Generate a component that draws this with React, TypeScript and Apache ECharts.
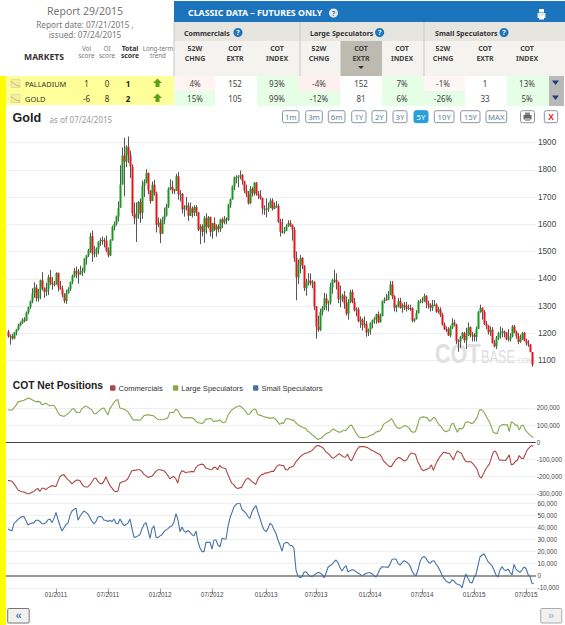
import React, { useEffect, useRef } from "react";
import * as echarts from "echarts";

// Weekly gold candles (Jul 2010 - Jul 2015)
const opens = [
  1206,1188,1189,1181,1204,1214,1227,1238,1250,1246,1276,1296,1317,1346,1368,1328,1359,1394,1367,1352,1363,1406,1385,1379,1380,
  1421,1369,1361,1342,1318,1348,1362,1388,1410,1429,1421,1416,1428,1428,1474,1486,1504,1556,1492,1493,1510,1536,1542,1541,1539,1503,1486,1541,1590,1601,1628,1660,1746,1852,1830,1884,1855,1812,1640,1622,1635,1682,1642,1742,1755,1788,1724,1685,1745,1713,1598,1606,
  1565,1617,1632,1664,1730,1737,1725,1723,1776,1711,1711,1655,1662,1669,1631,1658,1642,1663,1644,1580,1592,1572,1622,1590,1626,1572,1604,1580,1592,1582,1618,1606,1620,1616,1671,1692,1740,1772,1772,1776,1780,1758,1724,1710,1677,1730,1714,1752,1711,1705,1696,1658,
  1656,1656,1660,1687,1657,1666,1667,1609,1572,1572,1576,1592,1605,1597,1580,1476,1405,1453,1476,1447,1365,1387,1393,1383,1387,1298,1224,1212,1278,1293,1328,1310,1313,1369,1396,1396,1386,1326,1326,1339,1310,1272,1315,1352,1315,1284,1288,1244,1250,1230,1235,1203,
  1213,1238,1248,1254,1270,1240,1263,1318,1324,1322,1340,1379,1336,1294,1303,1318,1293,1303,1302,1290,1293,1292,1246,1252,1274,1316,1316,1320,1337,1310,1304,1293,1304,1305,1279,1287,1267,1231,1215,1214,1192,1221,1239,1231,1171,1169,1185,1201,1175,1191,1222,1195,
  1195,1186,1216,1279,1293,1278,1234,1227,1204,1213,1164,1152,1182,1199,1200,1207,1203,1178,1178,1188,1225,1204,1189,1168,1179,1201,1173,1163,1159,1131,
];
const closes = [
  1188,1189,1181,1204,1214,1227,1238,1250,1246,1276,1296,1317,1346,1368,1328,1359,1394,1367,1352,1363,1406,1385,1379,1380,1421,
  1369,1361,1342,1318,1348,1362,1388,1410,1429,1421,1416,1428,1428,1474,1486,1504,1556,1492,1493,1510,1536,1542,1541,1539,1503,1486,1541,1590,1601,1628,1660,1746,1852,1830,1884,1855,1812,1640,1622,1635,1682,1642,1742,1755,1788,1724,1685,1745,1713,1598,1606,1565,
  1617,1632,1664,1730,1737,1725,1723,1776,1711,1711,1655,1662,1669,1631,1658,1642,1663,1644,1580,1592,1572,1622,1590,1626,1572,1604,1580,1592,1582,1618,1606,1620,1616,1671,1692,1740,1772,1772,1776,1780,1758,1724,1710,1677,1730,1714,1752,1711,1705,1696,1658,1656,
  1656,1660,1687,1657,1666,1667,1609,1572,1572,1576,1592,1605,1597,1580,1476,1405,1453,1476,1447,1365,1387,1393,1383,1387,1298,1224,1212,1278,1293,1328,1310,1313,1369,1396,1396,1386,1326,1326,1339,1310,1272,1315,1352,1315,1284,1288,1244,1250,1230,1235,1203,1213,
  1238,1248,1254,1270,1240,1263,1318,1324,1322,1340,1379,1336,1294,1303,1318,1293,1303,1302,1290,1293,1292,1246,1252,1274,1316,1316,1320,1337,1310,1304,1293,1304,1305,1279,1287,1267,1231,1215,1214,1192,1221,1239,1231,1171,1169,1185,1201,1175,1191,1222,1195,1195,
  1186,1216,1279,1293,1278,1234,1227,1204,1213,1164,1152,1182,1199,1200,1207,1203,1178,1178,1188,1225,1204,1189,1168,1179,1201,1173,1163,1159,1131,1085,
];
const highs = [
  1212,1196,1198,1205,1216,1235,1243,1256,1259,1280,1298,1320,1365,1387,1379,1362,1397,1424,1369,1385,1415,1432,1406,1392,1424,
  1423,1392,1375,1347,1360,1369,1390,1415,1440,1445,1436,1448,1441,1476,1487,1510,1569,1577,1521,1515,1537,1550,1555,1550,1558,1515,1545,1595,1610,1632,1684,1817,1882,1917,1890,1922,1870,1820,1680,1680,1685,1695,1760,1765,1802,1790,1725,1757,1763,1720,1625,1620,
  1627,1661,1675,1735,1765,1760,1730,1785,1792,1725,1715,1670,1700,1680,1680,1665,1670,1670,1645,1600,1600,1630,1640,1630,1628,1605,1625,1600,1600,1620,1625,1630,1625,1675,1695,1742,1775,1780,1780,1797,1785,1760,1745,1722,1740,1737,1755,1755,1722,1725,1698,1670,
  1695,1680,1695,1695,1680,1685,1675,1620,1620,1590,1600,1615,1615,1600,1590,1500,1470,1487,1480,1450,1400,1420,1420,1395,1392,1300,1265,1290,1300,1348,1345,1320,1385,1400,1433,1420,1390,1375,1345,1355,1335,1325,1360,1361,1330,1295,1295,1262,1255,1262,1245,1217,
  1240,1250,1260,1272,1280,1272,1320,1332,1345,1355,1392,1392,1340,1305,1330,1330,1310,1315,1315,1305,1305,1295,1255,1285,1322,1325,1332,1345,1340,1320,1310,1322,1322,1310,1297,1295,1275,1240,1225,1222,1228,1255,1250,1235,1178,1190,1205,1205,1220,1240,1225,1205,
  1200,1225,1282,1305,1295,1285,1245,1230,1225,1222,1175,1190,1205,1225,1220,1210,1205,1215,1200,1230,1230,1210,1200,1195,1205,1205,1180,1175,1160,1130,
];
const lows = [
  1184,1158,1176,1178,1192,1210,1225,1234,1240,1244,1270,1290,1310,1330,1316,1316,1325,1357,1330,1336,1340,1376,1360,1372,1378,
  1353,1360,1332,1310,1308,1345,1355,1380,1405,1402,1382,1415,1410,1421,1452,1480,1495,1462,1478,1480,1490,1520,1525,1515,1497,1478,1483,1540,1577,1595,1610,1664,1745,1702,1810,1825,1770,1630,1600,1535,1620,1605,1620,1700,1750,1710,1675,1685,1705,1570,1590,1531,
  1565,1600,1628,1660,1725,1712,1710,1722,1690,1684,1640,1628,1650,1612,1630,1625,1630,1630,1575,1527,1555,1532,1565,1585,1555,1547,1575,1555,1570,1572,1586,1600,1600,1612,1660,1690,1725,1750,1735,1765,1745,1715,1700,1672,1675,1702,1705,1705,1692,1690,1636,1635,
  1625,1645,1660,1650,1655,1660,1605,1555,1565,1565,1575,1590,1590,1540,1462,1321,1380,1420,1435,1355,1338,1375,1375,1365,1285,1180,1205,1208,1265,1285,1284,1280,1305,1345,1385,1360,1310,1295,1315,1290,1265,1250,1310,1310,1280,1262,1240,1220,1210,1220,1187,1190,
  1195,1218,1235,1235,1238,1240,1262,1310,1320,1322,1340,1325,1280,1277,1295,1290,1275,1285,1280,1285,1282,1240,1240,1250,1272,1310,1310,1315,1292,1290,1280,1282,1300,1275,1272,1260,1228,1212,1205,1190,1185,1215,1225,1160,1132,1145,1180,1165,1142,1190,1185,1170,
  1170,1170,1215,1275,1250,1230,1215,1195,1190,1162,1148,1142,1175,1180,1185,1185,1175,1170,1170,1185,1200,1180,1160,1165,1175,1170,1155,1150,1130,1077,
];

// COT net positions, in thousands of contracts (one value per week)
const commercials = [
  -223,-223,-227,-242,-258,-277,-283,-287,-290,-294,-300,-296,-290,-285,-275,-269,-285,-267,-267,-275,-265,-258,-252,-254,-258,-227,-200,-192,-188,-204,-217,-227,-242,-231,-221,-219,-223,-242,-256,-260,
  -260,-246,-231,-212,-208,-227,-238,-242,-227,-200,-227,-250,-265,-281,-287,-285,-238,-231,-227,-223,-212,-188,-165,-163,-162,-160,-160,-169,-185,-194,-204,-200,-198,-185,-169,-160,-160,-162,-165,-177,
  -192,-212,-204,-198,-212,-237,-188,-165,-169,-177,-173,-173,-169,-173,-150,-135,-131,-127,-131,-150,-154,-158,-160,-146,-146,-160,-135,-146,-150,-154,-185,-212,-237,-246,-262,-269,-265,-262,-238,-219,
  -208,-215,-227,-235,-246,-217,-198,-188,-185,-177,-179,-173,-169,-169,-150,-135,-131,-135,-135,-160,-160,-146,-144,-138,-115,-102,-88,-77,-69,-62,-62,-54,-50,-38,-25,-19,-21,-27,-35,-54,
  -62,-73,-88,-92,-83,-73,-67,-77,-85,-87,-69,-96,-108,-83,-58,-38,-25,-25,-25,-27,-31,-38,-46,-50,-58,-65,-69,-83,-108,-119,-131,-142,-140,-121,-104,-92,-88,-96,-106,-108,
  -96,-73,-62,-65,-69,-108,-131,-154,-165,-160,-156,-150,-131,-163,-131,-108,-88,-73,-58,-60,-63,-65,-83,-102,-73,-50,-58,-63,-88,-108,-115,-112,-115,-127,-142,-160,-198,-208,-185,-160,
  -142,-127,-92,-58,-50,-73,-102,-104,-104,-106,-92,-73,-131,-127,-112,-104,-77,-92,-96,-69,-44,-31,-19,-23,
];
const largeSpeculators = [
  188,188,187,200,215,235,238,242,244,250,258,254,248,242,235,238,235,219,223,227,219,212,215,215,196,173,158,154,150,158,167,177,192,196,177,173,173,196,204,212,
  204,196,188,167,165,177,187,196,200,181,158,196,212,231,244,248,200,196,192,187,177,162,142,129,131,129,129,138,154,158,160,158,156,154,142,133,131,131,133,137,
  142,173,173,173,192,187,162,148,142,144,142,144,142,138,123,115,112,110,115,135,135,138,135,119,125,123,131,119,113,119,154,173,188,196,204,208,212,204,192,181,
  162,165,181,192,192,162,158,154,150,144,146,138,142,142,135,119,104,113,110,135,138,135,129,129,115,104,96,90,85,81,65,58,46,38,27,17,21,25,37,48,
  54,58,71,77,69,62,58,62,71,67,81,96,100,81,58,42,29,27,27,29,31,38,42,46,58,62,65,77,104,113,119,127,138,119,96,85,81,85,94,96,
  90,81,62,58,62,96,138,146,148,146,142,123,129,144,138,115,100,90,71,62,65,71,106,110,85,58,81,77,85,115,119,115,110,113,129,148,187,190,181,162,
  138,119,90,58,52,52,90,100,104,100,104,62,119,113,100,100,71,96,100,71,58,46,35,29,
];
const smallSpeculators = [
  38.7,37.8,37.3,43.4,44.8,46.7,48,49,49,45.6,42,43,43.6,44,46,46,45,43,43,44,46.4,47,44,47.5,52.5,46.4,41.4,37,39.8,42.5,43.6,50,53.6,55,56,46,49,51.7,53.6,52.5,
  51,48,45,43,45,48.6,49,48.6,46,46,45,46,44.8,47,43.4,43,47,44,41.4,42.5,43.6,47,39,32,32,33,34,39,42.5,44,38,31,39,41.4,32,31.5,33,34,36.5,38,
  39,40.6,41.4,44.8,51.4,46,36.5,40.3,37,36,37.6,36,34,33,37,28,23,20,20,27.6,27.6,28,22,29.6,29.6,25.4,24,31,30.4,30.4,40.6,48,52.5,57,59,60,60,54.7,53.6,51.7,
  49,47.5,53,56,58,52.5,47.5,42,38,36.5,39,43.6,42,38,35,29.6,25.4,20.4,26.8,27.6,27.3,25,25,22.6,4.7,-0.3,-1.6,-0.8,2.8,3.3,1.1,-0.3,-0.8,0.5,1.6,2.8,2.2,1.1,-1.7,2,
  7,8.3,9.4,11.6,13,10.8,6.6,3.9,6.6,8.3,3.3,4.1,5,4.7,3.3,2.2,1.4,-0.3,1.1,1.9,2.5,2.5,1.7,0,-1.1,1.9,5.5,7.5,7.2,7.2,6.9,9.4,13.5,13.8,13.8,10.2,8.8,10.8,12.4,11.6,
  10.2,8.3,3.9,1.1,0,4.7,11.6,15,16,14.4,11.6,10.2,12,12.4,9.7,7.5,4.4,0.6,-2.2,-4.4,-5.5,-6,-3.3,-4.4,-6.4,-7.2,-7.7,-10,-3.6,1.4,-2.2,-5.5,-6,-1.7,1.1,8.3,15.7,17,18.2,15,
  11.6,10,8.3,4.7,0.6,-1.1,4.7,7.5,5,4.4,5.5,2.8,0.6,9.4,5.5,3.9,2.8,4.7,7.2,6,1.1,-0.8,-6.4,-6.6,
];

const xTickSlots = [25, 51, 77, 103, 130, 155, 182, 208, 234, 260];
const xTickLabels = ["01/2011","07/2011","01/2012","07/2012","01/2013","07/2013","01/2014","07/2014","01/2015","07/2015"];

const rangeButtons = ["1m","3m","6m","1Y","2Y","3Y","5Y","10Y","15Y","MAX"];
const groupHeads = ["Commercials","Large Speculators","Small Speculators"];
const columnHeads = [["52W","CHNG"],["COT","EXTR"],["COT","INDEX"],["52W","CHNG"],["COT","EXTR"],["COT","INDEX"],["52W","CHNG"],["COT","EXTR"],["COT","INDEX"]];
const marketRows = [
  { name: "PALLADIUM", vol: "1", oi: "0", total: "1", cells: ["4%","152","93%","-4%","152","7%","-1%","1","13%"] },
  { name: "GOLD", vol: "-6", oi: "8", total: "2", cells: ["15%","105","99%","-12%","81","6%","-26%","33","5%"] },
];
const cellTints = [
  ["#fff3f3","#ffffff","#e6fde6","#fff0f0","#ffffff","#e6fde6","#fff6f6","#ffffff","#e6fde6"],
  ["#e6fde6","#ffffff","#e6fde6","#e6fde6","#ffffff","#e6fde6","#e6fde6","#ffffff","#e6fde6"],
];

const SANS = '"Liberation Sans", Arial, sans-serif';
const TAB = '"Noto Sans", sans-serif';

function buildGraphics() {
  const g: any[] = [];
  const rect = (x: number, y: number, w: number, h: number, fill: string, extra: any = {}) =>
    g.push({ type: "rect", z: 1, shape: { x, y, width: w, height: h, ...(extra.r ? { r: extra.r } : {}) }, style: { fill, stroke: extra.stroke, lineWidth: extra.lw ?? 1 } });
  const text = (x: number, y: number, t: string, font: string, fill: string, align = "left", scaleX = 1, z = 3, lineHeight?: number) =>
    g.push({ type: "text", z, x, y, scaleX, style: { text: t, font, fill, textAlign: align, textVerticalAlign: "middle", ...(lineHeight ? { lineHeight } : {}) } });
  const help = (x: number, y: number, fill = "#1c75bc", col = "#fff") => {
    g.push({ type: "circle", z: 2, shape: { cx: x, cy: y, r: 4.5 }, style: { fill } });
    text(x, y + 0.3, "?", `bold 7px ${TAB}`, col, "center");
  };

  // left block
  text(85, 11, "Report 29/2015", `10.5px ${TAB}`, "#777777", "center");
  text(85, 24, "Report date: 07/21/2015 ,", `8.2px ${TAB}`, "#777777", "center");
  text(85, 34, "issued: 07/24/2015", `8.2px ${TAB}`, "#777777", "center");
  text(44, 57, "MARKETS", `bold 8.6px ${TAB}`, "#333333", "center");
  const mini = [
    [86.5, "Vol\nscore", "normal"], [107, "OI\nscore", "normal"], [130, "Total\nscore", "bold"], [158, "Long-term\ntrend", "normal"],
  ] as any[];
  mini.forEach(([x, t, w]) => {
    const col = w === "bold" ? "#333333" : "#777777";
    const size = x === 158 ? "6.2px" : w === "bold" ? "6.8px" : "6.4px";
    text(x, 52, t, `${w} ${size} ${TAB}`, col, "center", 1, 3, 7.2);
  });

  // blue header
  rect(174, 1, 391, 21, "#1c75bc");
  text(188, 13, "CLASSIC DATA \u2013 FUTURES ONLY", `bold 8.8px ${TAB}`, "#ffffff");
  help(333.5, 13, "#e8e8e8", "#1c75bc");
  rect(537.5, 13, 8, 5, "#e6e6e6");
  rect(539, 9, 5, 3.5, "#ffffff");
  rect(539, 16, 5, 3.5, "#ffffff");

  // group and column heads
  rect(174, 22, 391, 19, "#e7e5e0");
  rect(174, 41, 375, 35, "#f4f3f0");
  rect(565 - 16, 41, 16, 35, "#f4f3f0");
  rect(340.5, 41, 41.5, 35, "#bdbab2");
  [[174, 0], [300, 0], [424, 0]].forEach(([x]) => g.push({ type: "line", z: 2, shape: { x1: x, y1: 22, x2: x, y2: 76 }, style: { stroke: "#c9c7c1", lineWidth: 1 } }));
  const headX = [184, 310, 435];
  const helpX = [238, 379.6, 504];
  groupHeads.forEach((h, i) => {
    text(headX[i], 33, h, `bold 7.1px ${TAB}`, "#333333");
    help(helpX[i], 32.5);
  });
  const colX = [195, 235, 277, 319, 361, 402, 443, 485, 527];
  columnHeads.forEach(([a, b], i) => {
    text(colX[i], 53.7, `${a}\n${b}`, `bold 7px ${TAB}`, "#444444", "center", 1, 3, 9.5);
  });
  g.push({ type: "polygon", z: 3, shape: { points: [[358, 66], [364, 66], [361, 69]] }, style: { fill: "#333333" } });

  // rows
  rect(0, 76, 6, 549, "#ffff00");
  rect(6, 76, 168, 29, "#ffff99");
  const cellEdges = [174, 215.5, 257, 299, 340.5, 382, 424, 465.5, 507, 549];
  marketRows.forEach((row, r) => {
    const top = 76 + r * 15;
    const mid = top + 7.5;
    rect(11, mid - 4, 9, 8, "#f4f09a", { stroke: "#c8c4a0", lw: 0.5 });
    g.push({ type: "polyline", z: 3, shape: { points: [[11, mid - 2], [15, mid + 1], [20, mid + 3]] }, style: { stroke: "#d09a80", lineWidth: 0.8, fill: "none" } });
    text(25, mid, row.name, `7.4px ${TAB}`, "#333333");
    text(86.5, mid, row.vol, `8px ${TAB}`, "#333333", "center");
    text(107, mid, row.oi, `8px ${TAB}`, "#333333", "center");
    text(128, mid, row.total, `bold 8px ${TAB}`, "#222222", "center");
    g.push({ type: "polygon", z: 3, shape: { points: [[157.5, mid - 5], [162, mid - 0.5], [159.5, mid - 0.5], [159.5, mid + 3.5], [155.5, mid + 3.5], [155.5, mid - 0.5], [153, mid - 0.5]] }, style: { fill: "#5e9e18" } });
    row.cells.forEach((c, i) => {
      rect(cellEdges[i], top, cellEdges[i + 1] - cellEdges[i], 15, cellTints[r][i]);
      text(colX[i], mid, c, `8px ${TAB}`, "#444444", "center");
    });
    rect(549, top, 15, 15, "#b9b9b9");
    g.push({ type: "polygon", z: 3, shape: { points: [[552, mid - 3], [559, mid - 3], [555.5, mid + 1.5]] }, style: { fill: "#1c3f80" } });
  });

  // title and range buttons
  text(12.5, 117.5, "Gold", `bold 12.6px ${SANS}`, "#222222");
  text(49.5, 119, "as of 07/24/2015", `8px ${TAB}`, "#999999");
  const btnX = [[282.5, 299], [305.7, 322.3], [328.3, 345], [351.7, 366], [372, 386.7], [393, 407], [414, 428], [434.3, 454], [460.7, 480], [486, 506.7]];
  rangeButtons.forEach((b, i) => {
    const [a, e] = btnX[i];
    const on = b === "5Y";
    rect(a, 110.7, e - a, 12, on ? "#2a9fd6" : "#ffffff", { stroke: on ? "#2a9fd6" : "#8a94a0", r: 2 });
    text((a + e) / 2, 117, b, `7.8px ${TAB}`, on ? "#ffffff" : "#5a7fa0", "center");
  });
  rect(520.5, 110.7, 14, 12, "#ffffff", { stroke: "#8a94a0", r: 2 });
  rect(523.5, 115, 8, 4.5, "#666666");
  rect(525, 112.5, 5, 2.5, "#888888");
  rect(525, 118, 5, 3, "#aaaaaa");
  rect(544.3, 110.7, 13.4, 12, "#ffffff", { stroke: "#8a94a0", r: 2 });
  text(551, 117, "X", `bold 8.5px ${SANS}`, "#ee1111", "center");

  // watermark
  text(435, 353.5, "COT", `bold 27px ${SANS}`, "#e0e0e0", "left", 0.8, 1);
  text(481, 356.5, "BASE", `18px ${SANS}`, "#dddddd", "left", 0.71, 1);
  text(516, 360.5, ".COM", `6.8px ${SANS}`, "#d8d8d8", "left", 1, 1);

  // COT title
  text(12.7, 385, "COT Net Positions", `bold 10.3px ${SANS}`, "#222222");

  // paging buttons
  rect(7.7, 608.5, 21.5, 14.5, "#f2f1ee", { stroke: "#777777", r: 1 });
  text(18.5, 615, "\u00ab", `bold 11px ${SANS}`, "#4a80c0", "center");
  rect(540.7, 608.5, 21, 14.5, "#f2f1ee", { stroke: "#aaaaaa", r: 1 });
  text(551, 615, "\u00bb", `bold 11px ${SANS}`, "#a9bcd0", "center");
  return g;
}

function renderCandle(_p: any, api: any) {
  const s = api.value(0);
  const o = api.coord([s, api.value(1)]);
  const c = api.coord([s, api.value(2)]);
  const l = api.coord([s, api.value(3)]);
  const h = api.coord([s, api.value(4)]);
  const x = Math.round(o[0]) + 0.5;
  const top = Math.min(o[1], c[1]);
  const height = Math.max(Math.abs(o[1] - c[1]), 1);
  const up = api.value(2) >= api.value(1);
  return {
    type: "group",
    children: [
      { type: "line", shape: { x1: x, y1: h[1], x2: x, y2: l[1] }, style: { stroke: "#555555", lineWidth: 1 } },
      { type: "rect", shape: { x: x - 1, y: top, width: 2, height }, style: { fill: up ? "#169a1e" : "#e8141c" } },
    ],
  };
}

export default function App() {
  const ref = useRef<HTMLDivElement>(null);
  useEffect(() => {
    document.body.style.margin = "0";
    const chart = echarts.init(ref.current!, undefined, { renderer: "svg" });
    const slots = Array.from({ length: 266 }, (_, i) => String(i));
    const shift = (a: number[]) => [null, ...a];
    const labelAt = (i: number) => xTickSlots.includes(i);
    const gridLine = { show: true, lineStyle: { color: "#eeeeee", width: 1 } };
    const baseX: any = {
      type: "category", data: slots, boundaryGap: false,
      axisLabel: { show: false }, axisTick: { show: false }, axisLine: { show: false }, splitLine: { show: false },
    };
    const label = (size: number, formatter: any, margin = 2, extra: any = {}) => ({
      color: "#444444", fontSize: size, fontFamily: SANS, margin, formatter, ...extra,
    });
    const thousands = (v: number) => v.toLocaleString("en-US");
    chart.setOption({
      animation: false,
      backgroundColor: "#ffffff",
      textStyle: { fontFamily: SANS },
      graphic: { elements: buildGraphics() },
      legend: {
        left: 110, top: 384, itemWidth: 5.5, itemHeight: 5.5, itemGap: 10,
        icon: "roundRect", selectedMode: false, padding: 0,
        data: ["Commercials", "Large Speculators", "Small Speculators"],
        textStyle: { fontSize: 7.6, color: "#333333", fontFamily: SANS, padding: [0, 0, 0, -2] },
      },
      grid: [
        { left: 6, width: 530, top: 115.25, height: 272.5 },
        { left: 6, width: 530, top: 390.7, height: 103.2 },
        { left: 6, width: 530, top: 503.3, height: 84.5 },
      ],
      xAxis: [
        { ...baseX, gridIndex: 0, show: false },
        { ...baseX, gridIndex: 1, axisLine: { show: true, onZero: true, lineStyle: { color: "#444444", width: 1.2 } } },
        {
          ...baseX, gridIndex: 2, position: "bottom", offset: 1,
          axisLine: { show: false, onZero: false },
          axisTick: { show: true, length: 5, interval: labelAt, lineStyle: { color: "#999999" } },
          axisLabel: {
            show: true, interval: labelAt, color: "#444444", fontSize: 6.3, fontFamily: SANS, margin: 3,
            formatter: (_v: string, i: number) => { const k = xTickSlots.indexOf(i); return k >= 0 ? xTickLabels[k] : ""; },
          },
        },
      ],
      yAxis: [
        {
          type: "value", gridIndex: 0, position: "right", min: 1000, max: 2000, interval: 100,
          splitLine: { ...gridLine, showMinLine: false, showMaxLine: false },
          axisLine: { show: false }, axisTick: { show: false },
          axisLabel: label(8.2, (v: number) => String(v), 2, { showMinLabel: false, showMaxLabel: false }),
        },
        {
          type: "value", gridIndex: 1, position: "right", min: -300, max: 300, interval: 100,
          splitLine: { ...gridLine, showMaxLine: false },
          axisLine: { show: false }, axisTick: { show: false },
          axisLabel: label(6.4, (v: number) => thousands(v * 1000), 1.5, { showMaxLabel: false, showMinLabel: true }),
        },
        {
          type: "value", gridIndex: 2, position: "right", min: -10, max: 60, interval: 10,
          splitLine: gridLine,
          axisLine: { show: false }, axisTick: { show: false },
          axisLabel: label(6.4, (v: number) => thousands(v * 1000), 1.5, { showMinLabel: true, showMaxLabel: true }),
        },
      ],
      series: [
        {
          type: "custom", name: "Gold", xAxisIndex: 0, yAxisIndex: 0, renderItem: renderCandle,
          encode: { x: 0, y: [1, 2, 3, 4] }, silent: true, z: 3,
          data: closes.map((c, i) => [i + 1, opens[i], c, lows[i], highs[i]]),
        },
        {
          type: "line", name: "Commercials", xAxisIndex: 1, yAxisIndex: 1, data: shift(commercials), showSymbol: false,
          lineStyle: { color: "#aa4643", width: 1.1 }, itemStyle: { color: "#aa4643" }, z: 4, silent: true,
        },
        {
          type: "line", name: "Large Speculators", xAxisIndex: 1, yAxisIndex: 1, data: shift(largeSpeculators), showSymbol: false,
          lineStyle: { color: "#89a54e", width: 1.1 }, itemStyle: { color: "#89a54e" }, z: 4, silent: true,
        },
        {
          type: "line", name: "Small Speculators", xAxisIndex: 2, yAxisIndex: 2, data: shift(smallSpeculators), showSymbol: false,
          lineStyle: { color: "#4572a7", width: 1.1 }, itemStyle: { color: "#4572a7" }, z: 4, silent: true,
          markLine: {
            silent: true, symbol: "none", label: { show: false }, animation: false, z: 3,
            lineStyle: { color: "#999999", width: 1.8, type: "solid" }, data: [{ yAxis: 0 }],
          },
        },
      ],
    });
    return () => chart.dispose();
  }, []);
  return <div ref={ref} style={{ position: "absolute", left: 0, top: 0, width: 565, height: 625 }} />;
}
